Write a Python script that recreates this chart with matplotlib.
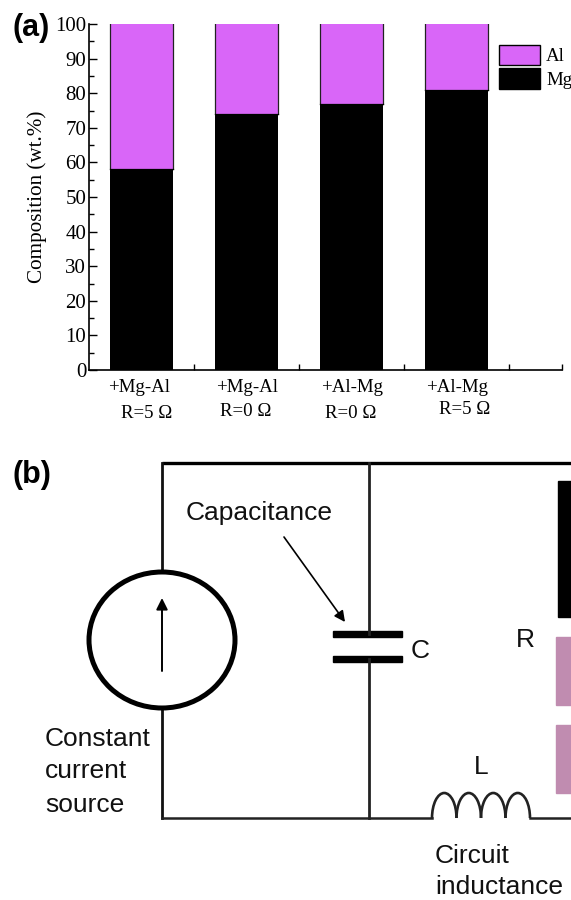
import matplotlib
matplotlib.use("Agg")
import matplotlib.pyplot as plt
from matplotlib.patches import Ellipse, Rectangle, Arc, Patch

W, H = 571, 900

categories = ["+Mg-Al", "+Mg-Al", "+Al-Mg", "+Al-Mg"]
resistance = ["R=5 Ω", "R=0 Ω", "R=0 Ω", "R=5 Ω"]
mg = [58, 74, 77, 81]
al = [42, 26, 23, 19]
positions = [1, 2, 3, 4]

# pixel offsets of the hand placed category labels
label_x = [139, 247, 352, 457]
res_x = [147, 246, 351, 465]
res_y = [413, 411, 413, 409]

AL_COLOR = "#D966F8"
PINK = "#C08CB0"
SERIF = "Liberation Serif"
SANS = "Liberation Sans"
BAR_W = 0.6

fig = plt.figure(figsize=(W / 100, H / 100), dpi=100)

# pixel canvas for the circuit and the loose labels
bg = fig.add_axes([0, 0, 1, 1])
bg.set_xlim(0, W)
bg.set_ylim(H, 0)
bg.axis("off")

# (a) stacked bars
left, right, top, bottom = 89, 562, 24, 370
ax = fig.add_axes([left / W, 1 - bottom / H, (right - left) / W, (bottom - top) / H])
ax.patch.set_alpha(0)
ax.bar(positions, mg, width=BAR_W, color="black", linewidth=0)
ax.bar(positions, al, width=BAR_W, bottom=mg, color=AL_COLOR, linewidth=0)
# only the sides and the joint are outlined, no line along the top
for x, m in zip(positions, mg):
    ax.plot([x - BAR_W / 2, x - BAR_W / 2], [m, 100], color="#222222", lw=0.9)
    ax.plot([x + BAR_W / 2, x + BAR_W / 2], [m, 100], color="#222222", lw=0.9)
    ax.plot([x - BAR_W / 2, x + BAR_W / 2], [m, m], color="black", lw=0.9)
ax.set_xlim(0.5, 5)
ax.set_ylim(0, 100)
ax.spines["top"].set_visible(False)
ax.spines["right"].set_visible(False)
ax.spines["left"].set_linewidth(1.2)
ax.spines["bottom"].set_linewidth(1.2)
ax.set_yticks(range(0, 101, 10))
ax.set_yticks(range(5, 100, 10), minor=True)
ax.set_xticks([1.5, 2.5, 3.5, 4.5, 5])
ax.set_xticklabels([])
ax.tick_params(axis="y", which="major", direction="in", length=6, width=1, labelsize=15, pad=2)
ax.tick_params(axis="y", which="minor", direction="in", length=3.5, width=1)
ax.tick_params(axis="x", which="major", direction="in", length=4, width=1)
for t in ax.get_yticklabels():
    t.set_fontfamily(SERIF)
ax.set_ylabel("Composition (wt.%)", fontsize=15.2, family=SERIF, labelpad=6)

for name, r, x1, x2, y2 in zip(categories, resistance, label_x, res_x, res_y):
    bg.text(x1, 387, name, fontsize=13.6, family=SERIF, ha="center", va="center")
    bg.text(x2, y2, r, fontsize=13.6, family=SERIF, ha="center", va="center")

handles = [Patch(facecolor=AL_COLOR, edgecolor="black", label="Al"),
           Patch(facecolor="black", edgecolor="black", label="Mg")]
bg.legend(handles=handles, loc="upper left", bbox_to_anchor=(495 / W, 1 - 41 / H), frameon=False,
          prop={"family": SERIF, "size": 13.6}, handlelength=2.2, handleheight=1.3,
          labelspacing=0.15, handletextpad=0.3, borderpad=0.2, borderaxespad=0)

bg.text(12, 28, "(a)", fontsize=22, family=SANS, weight="bold", va="center")
bg.text(12, 475, "(b)", fontsize=22, family=SANS, weight="bold", va="center")

# (b) circuit
wire_l, wire_m, wire_t, wire_b = 162, 368.5, 463, 818
bg.plot([wire_l, W], [wire_t, wire_t], color="black", lw=2.4, solid_capstyle="butt")
bg.plot([wire_l, wire_l], [wire_t, wire_b], color="#111111", lw=2)
bg.plot([wire_l, 432], [wire_b, wire_b], color="#222222", lw=1.8)
bg.plot([530, W], [wire_b, wire_b], color="#222222", lw=1.8)
bg.plot([wire_m, wire_m], [wire_t, 634], color="#222222", lw=2)
bg.plot([wire_m, wire_m], [659, wire_b], color="#222222", lw=2)

# source
bg.add_patch(Ellipse((162, 640), 146, 136, facecolor="white", edgecolor="black", lw=3.6, zorder=3))
bg.annotate("", xy=(162, 598), xytext=(162, 671), zorder=4,
            arrowprops=dict(arrowstyle="-|>", color="black", lw=1.4, mutation_scale=17, shrinkA=0, shrinkB=0))

# capacitor
bg.add_patch(Rectangle((333, 631), 69, 6, color="black"))
bg.add_patch(Rectangle((333, 656), 69, 6, color="black"))
bg.annotate("", xy=(345, 622), xytext=(284, 537),
            arrowprops=dict(arrowstyle="-|>", color="black", lw=1.2, mutation_scale=16, shrinkA=0, shrinkB=0))

# inductor, four humps, y axis is flipped so the upper half is 180..360
n_humps = 4
hump = (530 - 432) / n_humps
for i in range(n_humps):
    bg.add_patch(Arc((432 + hump * (i + 0.5), 818), hump, 50, theta1=180, theta2=360, color="#222222", lw=1.9))

# resistor blocks at the right edge
bg.add_patch(Rectangle((558, 481), 13, 136, color="black"))
bg.add_patch(Rectangle((556, 637), 15, 68, color=PINK))
bg.add_patch(Rectangle((556, 725), 15, 68, color=PINK))

txt = dict(fontsize=19, family=SANS, color="#111111")
bg.text(186, 520, "Capacitance", va="baseline", **txt)
bg.text(411, 651, "C", va="center", **txt)
bg.text(516, 640, "R", va="center", **txt)
bg.text(481, 767, "L", va="center", ha="center", **txt)
bg.text(45, 746, "Constant", va="baseline", **txt)
bg.text(45, 778, "current", va="baseline", **txt)
bg.text(45, 812, "source", va="baseline", **txt)
bg.text(435, 863, "Circuit", va="baseline", **txt)
bg.text(435, 894, "inductance", va="baseline", **txt)

fig.savefig("out.png", dpi=100)
